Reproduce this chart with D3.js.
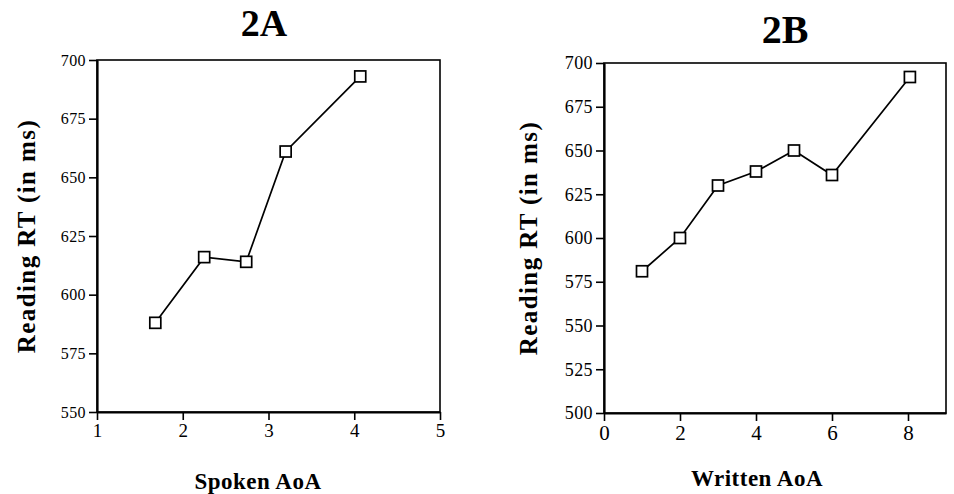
<!DOCTYPE html>
<html>
<head>
<meta charset="utf-8">
<script src="https://cdn.jsdelivr.net/npm/d3@7"></script>
<style>
  body { margin: 0; background: #fff; }
  text { font-family: "Liberation Serif", "Times New Roman", serif; fill: #000; }
</style>
</head>
<body>
<svg id="chart" width="954" height="494"></svg>
<script>
// panel 2A
const spokenAoA = [1.68, 2.25, 2.74, 3.2, 4.07];
const spokenRT = [588, 616, 614, 661, 693];
const spokenXTicks = [1, 2, 3, 4, 5];
const spokenYTicks = [550, 575, 600, 625, 650, 675, 700];

// panel 2B
const writtenAoA = [1, 2, 3, 4, 5, 6, 8.05];
const writtenRT = [581, 600, 630, 638, 650, 636, 692];
const writtenXTicks = [0, 2, 4, 6, 8];
const writtenYTicks = [500, 525, 550, 575, 600, 625, 650, 675, 700];

const svg = d3.select('#chart');
const fmt = d3.format('d');
const serif = '"Liberation Serif", "Times New Roman", serif';

function drawPanel(opts) {
  const x = d3.scaleLinear().domain(opts.xDomain).range([opts.left, opts.right]);
  const y = d3.scaleLinear().domain(opts.yDomain).range([opts.bottom, opts.top]);
  const g = svg.append('g');

  // frame
  g.append('rect')
    .attr('x', opts.left)
    .attr('y', opts.top)
    .attr('width', opts.right - opts.left)
    .attr('height', opts.bottom - opts.top)
    .attr('fill', 'none')
    .attr('stroke', '#000')
    .attr('stroke-width', 1.6);

  const yAxis = g.append('g')
    .attr('transform', `translate(${opts.left},0)`)
    .call(d3.axisLeft(y).tickValues(opts.yTicks).tickFormat(fmt)
      .tickSize(8).tickPadding(3).tickSizeOuter(0));
  yAxis.attr('font-family', serif);
  yAxis.select('.domain').attr('stroke-width', 2.2);
  yAxis.selectAll('line').attr('stroke-width', 1.6);
  yAxis.selectAll('text')
    .style('font-family', serif)
    .style('font-size', opts.yTickFont + 'px')
    .style('letter-spacing', '0.4px');

  const xAxis = g.append('g')
    .attr('transform', `translate(0,${opts.bottom})`)
    .call(d3.axisBottom(x).tickValues(opts.xTicks).tickFormat(fmt)
      .tickSize(8).tickPadding(4).tickSizeOuter(0));
  xAxis.attr('font-family', serif);
  xAxis.select('.domain').attr('stroke-width', 2.2);
  xAxis.selectAll('line').attr('stroke-width', 1.6);
  xAxis.selectAll('text')
    .style('font-family', serif)
    .style('font-size', opts.xTickFont + 'px');

  const pts = opts.xs.map((v, i) => [v, opts.ys[i]]);

  g.append('path')
    .datum(pts)
    .attr('fill', 'none')
    .attr('stroke', '#000')
    .attr('stroke-width', 1.7)
    .attr('d', d3.line().x(d => x(d[0])).y(d => y(d[1])));

  const s = 11;
  g.selectAll('.pt')
    .data(pts)
    .enter().append('rect')
    .attr('class', 'pt')
    .attr('x', d => x(d[0]) - s / 2)
    .attr('y', d => y(d[1]) - s / 2)
    .attr('width', s)
    .attr('height', s)
    .attr('fill', '#fff')
    .attr('stroke', '#000')
    .attr('stroke-width', 1.7);

  // title
  svg.append('text')
    .attr('x', opts.titleX)
    .attr('y', opts.titleY)
    .attr('text-anchor', 'middle')
    .style('font-size', opts.titleSize + 'px')
    .style('font-weight', 'bold')
    .text(opts.title);

  // x label
  svg.append('text')
    .attr('x', opts.xLabelX)
    .attr('y', opts.xLabelY)
    .attr('text-anchor', 'middle')
    .style('font-size', '23px')
    .style('font-weight', 'bold')
    .style('letter-spacing', '0.5px')
    .text(opts.xLabel);

  // y label
  svg.append('text')
    .attr('transform', `translate(${opts.yLabelX},${opts.yLabelY}) rotate(-90)`)
    .attr('text-anchor', 'middle')
    .style('font-size', '25px')
    .style('font-weight', 'bold')
    .style('letter-spacing', '1.4px')
    .text('Reading RT (in ms)');
}

drawPanel({
  xs: spokenAoA, ys: spokenRT,
  xDomain: [1, 5], yDomain: [550, 700],
  xTicks: spokenXTicks, yTicks: spokenYTicks,
  left: 97, right: 440, top: 60, bottom: 412,
  yTickFont: 16, xTickFont: 19,
  title: '2A', titleX: 264, titleY: 36, titleSize: 38,
  xLabel: 'Spoken AoA', xLabelX: 258, xLabelY: 489,
  yLabelX: 35, yLabelY: 236
});

drawPanel({
  xs: writtenAoA, ys: writtenRT,
  xDomain: [0, 9], yDomain: [500, 700],
  xTicks: writtenXTicks, yTicks: writtenYTicks,
  left: 604, right: 946, top: 63, bottom: 413,
  yTickFont: 18, xTickFont: 21,
  title: '2B', titleX: 785, titleY: 43, titleSize: 40,
  xLabel: 'Written AoA', xLabelX: 757, xLabelY: 486,
  yLabelX: 537, yLabelY: 238
});
</script>
</body>
</html>
